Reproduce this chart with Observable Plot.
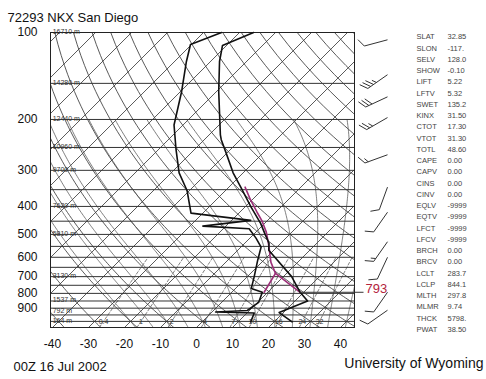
<!DOCTYPE html>
<html>
<head>
<meta charset="utf-8">
<script src="https://cdn.jsdelivr.net/npm/d3@7"></script>
<script src="https://cdn.jsdelivr.net/npm/@observablehq/plot@0.6"></script>
<style>
  html, body { margin: 0; padding: 0; background: #fff; }
  #chart svg { display: block; }
</style>
</head>
<body>
<div id="chart"></div>
<script>
// ---------------- Sounding data ----------------
const tempP = [1004, 932, 850, 793, 700, 567, 536, 500, 458, 402, 343, 306, 261, 235, 226, 160, 126, 111, 100];
const tempT = [25.0, 18.8, 23.5, 19.0, 12.3, -1.4, -3.3, -6.8, -11.1, -18.3, -26.7, -32.8, -40.3, -45.3, -46.9, -59.4, -67.5, -71.1, -66.1];

const dewP = [1004, 935, 928, 917, 860, 793, 770, 700, 614, 553, 515, 478, 468, 447, 422, 353, 306, 255, 209, 160, 126, 110, 100];
const dewT = [13.5, 12.0, 1.0, 9.4, 10.3, 8.5, 4.4, 1.9, -1.7, -4.4, -8.3, -12.8, -26.4, -14.7, -33.3, -40.6, -47.8, -55.0, -62.5, -69.7, -76.7, -80.3, -75.0];

// parcel path (lifted from 793 hPa)
const parcelDryP = [793, 682];
const parcelDryT = [19.0, 6.9];
const parcelMixP = [793, 682];
const parcelMixT = [9.0, 6.9];
const parcelMoistP = [682, 625, 545, 491, 450, 419, 380, 343];
const parcelMoistT = [6.9, 2.6, -2.8, -7.1, -11.3, -15.2, -20.4, -25.5];
const parcelLevel = 793;

// winds
const windP   = [106, 140, 167, 197, 265, 343, 419, 530, 600, 793, 915];
const windDir = [255, 235, 245, 240, 250, 200, 215, 215, 205, 215, 235];
const windKt  = [10, 35, 30, 25, 15, 10, 10, 15, 10, 10, 10];

// isobar height labels
const heightP = [100, 150, 200, 250, 300, 400, 500, 700, 850, 925, 1000];
const heightLabel = ["16710 m", "14280 m", "12440 m", "10960 m", "9700 m", "7620 m", "5810 m", "3130 m", "1537 m", "792 m", "164 m"];

// background grid definitions
const isobarP = d3.range(100, 1051, 50);
const isothermT = d3.range(-120, 41, 10);
const dryTheta = d3.range(-40, 191, 10);
const moistT1000 = [-20, -15, -10, -5, 0, 5, 10, 15, 20, 25, 30, 35, 40];
const mixRatio = [0.4, 1, 2, 4, 7, 10, 16, 24, 32];
const mixLabel = ["0.4", "1", "2", "4", "7", "10", "16", "24", "32"];

// axis ticks
const pTicks = [100, 200, 300, 400, 500, 600, 700, 800, 900];
const tTicks = [-40, -30, -20, -10, 0, 10, 20, 30, 40];

// station indices
const idxNames = ["SLAT","SLON","SELV","SHOW","LIFT","LFTV","SWET","KINX","CTOT","VTOT","TOTL","CAPE","CAPV","CINS","CINV","EQLV","EQTV","LFCT","LFCV","BRCH","BRCV","LCLT","LCLP","MLTH","MLMR","THCK","PWAT"];
const idxValues = ["32.85","-117.","128.0","-0.10","5.22","5.32","135.2","31.50","17.30","31.30","48.60","0.00","0.00","0.00","0.00","-9999","-9999","-9999","-9999","0.00","0.00","283.7","844.1","297.8","9.74","5798.","38.50"];

const titleText = "72293 NKX San Diego";
const dateText = "00Z 16 Jul 2002";
const sourceText = "University of Wyoming";

// ---------------- geometry ----------------
const W = 486, H = 379, mL = 50, mR = 132, mT = 32, mB = 52;
const xMin = -40.56, xMax = 43.89, pBot = 1050, pTop = 100;
const pxPerC = (W - mL - mR) / (xMax - xMin);
const pxPerLn = (H - mT - mB) / Math.log(pBot / pTop);
const K = pxPerLn / pxPerC;          // 45 degree skew
const sx = (T, p) => T + K * Math.log(pBot / p);
const toData = (X0, p0, dxPx, dyPx) => ({x: X0 + dxPx / pxPerC, p: p0 * Math.exp(dyPx / pxPerLn)});

// ---------------- grid lines ----------------
const isotherms = isothermT.flatMap(T => [pBot, pTop].map(p => ({id: T, T, p})));
const dryAd = dryTheta.flatMap(th => d3.range(pBot, pTop - 1, -10).map(p => ({id: th, p, T: (th + 273.15) * Math.pow(p / 1000, 0.2857) - 273.15})));

function dTdp(T, p) {
  const Tc = T - 273.15;
  const es = 6.112 * Math.exp(17.67 * Tc / (Tc + 243.5));
  const rs = 0.622 * es / (p - es);
  const Lv = 2.501e6, Rd = 287.04, Cp = 1005.7;
  return (Rd * T + Lv * rs) / (Cp + Lv * Lv * rs * 0.622 / (Rd * T * T)) / p;
}
const moistAd = moistT1000.flatMap(t0 => {
  const pts = [];
  let T = t0 + 273.15;
  let Td = T, down = [];
  for (let p = 1000; p <= 1050; p += 5) { down.push({id: t0, p, T: Td - 273.15}); Td += dTdp(Td, p) * 5; }
  down.reverse().forEach(d => pts.push(d));
  for (let p = 995; p >= 200; p -= 5) { T += dTdp(T, p + 5) * (-5); pts.push({id: t0, p, T: T - 273.15}); }
  return pts;
});

const dewFromMix = (w, p) => { const e = w * p / (622 + w); const l = Math.log(e / 6.112); return 243.5 * l / (17.67 - l); };
const mixLines = mixRatio.flatMap(w => d3.range(pBot, 599, -25).map(p => ({id: w, p, T: dewFromMix(w, p)})));
const mixLabels = mixRatio.map((w, i) => ({p: 1000, T: dewFromMix(w, 1000), label: mixLabel[i]}));

// ---------------- profiles ----------------
const temp = tempP.map((p, i) => ({p, T: tempT[i]}));
const dew = dewP.map((p, i) => ({p, T: dewT[i]}));
const parcel = [
  ...parcelDryP.map((p, i) => ({id: "dry", p, T: parcelDryT[i]})),
  ...parcelMixP.map((p, i) => ({id: "mix", p, T: parcelMixT[i]})),
  ...parcelMoistP.map((p, i) => ({id: "moist", p, T: parcelMoistT[i]}))
];
const heights = heightP.map((p, i) => ({p, label: heightLabel[i]}));

// ---------------- wind barbs ----------------
const stationX = xMin + (387 - mL) / pxPerC;
const barbs = [];
windP.forEach((p, i) => {
  const d = windDir[i] * Math.PI / 180, L = 24;
  const ux = Math.sin(d), uy = -Math.cos(d);
  const a = toData(stationX, p, 0, 0), b = toData(stationX, p, ux * L, uy * L);
  barbs.push({x1: a.x, p1: a.p, x2: b.x, p2: b.p});
  const c = Math.cos(Math.PI / 3), s = Math.sin(Math.PI / 3);
  const fx = ux * c - uy * s, fy = ux * s + uy * c;
  let spd = windKt[i], pos = L;
  while (spd >= 10) {
    const s0 = toData(stationX, p, ux * pos, uy * pos), s1 = toData(stationX, p, ux * pos + fx * 9, uy * pos + fy * 9);
    barbs.push({x1: s0.x, p1: s0.p, x2: s1.x, p2: s1.p});
    pos -= 3.5; spd -= 10;
  }
  if (spd >= 5) {
    if (pos === L) pos -= 3.5;
    const s0 = toData(stationX, p, ux * pos, uy * pos), s1 = toData(stationX, p, ux * pos + fx * 5, uy * pos + fy * 5);
    barbs.push({x1: s0.x, p1: s0.p, x2: s1.x, p2: s1.p});
  }
});

const tAt793 = tempT[tempP.indexOf(parcelLevel)];
const levelLine = [{x1: sx(tAt793, parcelLevel), x2: xMin + (363 - mL) / pxPerC, p: parcelLevel}];
const levelText = [{x: xMin + (365 - mL) / pxPerC, p: parcelLevel, label: String(parcelLevel)}];

const FONT = "'Liberation Sans', Arial, Helvetica, sans-serif";
const gridStroke = "#3c3c3c";

const chart = Plot.plot({
  width: W, height: H,
  marginLeft: mL, marginRight: mR, marginTop: mT, marginBottom: mB,
  style: {fontFamily: FONT, fontSize: "12px", color: "#111", background: "#fff"},
  x: {domain: [xMin, xMax], ticks: tTicks, tickSize: 0, tickPadding: 12, tickFormat: d => String(d), label: null},
  y: {type: "log", domain: [pBot, pTop], ticks: pTicks, tickSize: 0, tickPadding: 13, tickFormat: d => String(d), label: null},
  marks: [
    Plot.line(isotherms, {x: d => sx(d.T, d.p), y: "p", z: "id", stroke: gridStroke, strokeWidth: 0.85, clip: true}),
    Plot.line(dryAd, {x: d => sx(d.T, d.p), y: "p", z: "id", stroke: gridStroke, strokeWidth: 0.85, clip: true}),
    Plot.line(moistAd, {x: d => sx(d.T, d.p), y: "p", z: "id", stroke: "#555", strokeWidth: 0.75, clip: true}),
    Plot.line(mixLines, {x: d => sx(d.T, d.p), y: "p", z: "id", stroke: "#555", strokeWidth: 0.75, strokeDasharray: "3,2", clip: true}),
    Plot.ruleY(isobarP, {stroke: "#333", strokeWidth: 1}),
    Plot.frame({stroke: "#222", strokeWidth: 1}),
    Plot.text(heights, {x: xMin + 0.6, y: "p", text: "label", textAnchor: "start", fontSize: 7, fill: "#333", dy: -1}),
    Plot.text(mixLabels, {x: d => sx(d.T, d.p), y: "p", text: "label", fontSize: 7, fill: "#333"}),
    Plot.line(parcel, {x: d => sx(d.T, d.p), y: "p", z: "id", stroke: "#9c2f78", strokeWidth: 1.6}),
    Plot.line(temp, {x: d => sx(d.T, d.p), y: "p", stroke: "#111", strokeWidth: 1.6}),
    Plot.line(dew, {x: d => sx(d.T, d.p), y: "p", stroke: "#111", strokeWidth: 1.6}),
    Plot.link(levelLine, {x1: "x1", x2: "x2", y1: "p", y2: "p", stroke: "#333", strokeWidth: 1}),
    Plot.text(levelText, {x: "x", y: "p", text: "label", textAnchor: "start", fontSize: 13, fill: "#b3243c", dy: -3}),
    Plot.link(barbs, {x1: "x1", y1: "p1", x2: "x2", y2: "p2", stroke: "#333", strokeWidth: 1}),
    Plot.text([idxNames.join("\n")], {frameAnchor: "top-right", dx: 62, dy: -1, textAnchor: "start", lineAnchor: "top", lineHeight: 1.5, fontSize: 7.5, fill: "#444"}),
    Plot.text([idxValues.join("\n")], {frameAnchor: "top-right", dx: 93, dy: -1, textAnchor: "start", lineAnchor: "top", lineHeight: 1.5, fontSize: 7.5, fill: "#444"}),
    Plot.text([titleText], {frameAnchor: "top-left", dx: -43, dy: -11, textAnchor: "start", lineAnchor: "bottom", fontSize: 13, fill: "#111"}),
    Plot.text([dateText], {frameAnchor: "bottom-left", dx: -37, dy: 43, textAnchor: "start", lineAnchor: "bottom", fontSize: 13, fill: "#111"}),
    Plot.text([sourceText], {frameAnchor: "bottom-right", dx: 129, dy: 40, textAnchor: "end", lineAnchor: "bottom", fontSize: 14, fill: "#111"})
  ]
});
document.getElementById("chart").appendChild(chart);
</script>
</body>
</html>
